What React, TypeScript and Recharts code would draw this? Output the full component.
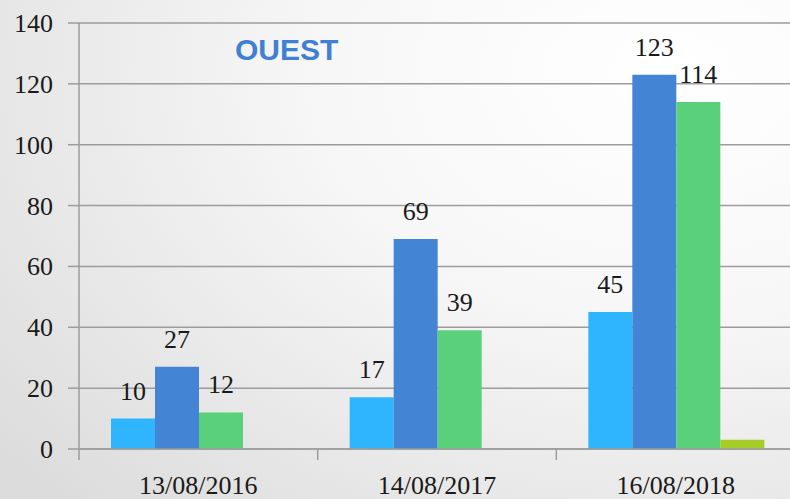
import React from "react";
import { BarChart, Bar, XAxis, YAxis, CartesianGrid, LabelList } from "recharts";

const categories = ["13/08/2016", "14/08/2017", "16/08/2018"];
const serieA = [10, 17, 45];
const serieB = [27, 69, 123];
const serieC = [12, 39, 114];
const serieD = [0, 0, 3];
const yTicks = [0, 20, 40, 60, 80, 100, 120, 140];

const data = categories.map((date, i) => ({
  date,
  a: serieA[i],
  b: serieB[i],
  c: serieC[i],
  d: serieD[i],
}));

const W = 790;
const H = 499;
const CHART_W = 795; // plot area runs slightly past the right edge
const LEFT = 79;
const GRID = "#9c9c9c";
const INK = "#1a1a1a";
const FONT = "'Liberation Serif', 'Times New Roman', serif";
const band = (CHART_W - LEFT) / categories.length;

// x tick: category label plus a small tick mark at the left edge of the band
function DateTick(props: any) {
  const { x, y, payload } = props;
  return (
    <g>
      <line x1={x - band / 2} x2={x - band / 2} y1={y} y2={y + 11} stroke={GRID} strokeWidth={1.5} />
      <text x={x} y={y + 45} textAnchor="middle" fill={INK} fontSize={26} fontFamily={FONT}>
        {payload.value}
      </text>
    </g>
  );
}

function ValueTick(props: any) {
  const { x, y, payload } = props;
  return (
    <text x={x} y={y + 9} textAnchor="end" fill={INK} fontSize={26} fontFamily={FONT}>
      {payload.value}
    </text>
  );
}

function BarValue(props: any) {
  const { x, y, width, value } = props;
  return (
    <text x={x + width / 2} y={y - 19} textAnchor="middle" fill={INK} fontSize={26} fontFamily={FONT}>
      {value}
    </text>
  );
}

export default function App() {
  return (
    <div
      style={{
        position: "absolute",
        left: 0,
        top: 0,
        width: W,
        height: H,
        overflow: "hidden",
        background:
          "radial-gradient(ellipse 110% 120% at 85% 15%, #ffffff 0%, #f7f7f7 40%, #dcdcdc 100%)",
      }}
    >
      <div
        style={{
          position: "absolute",
          left: 235,
          top: 32,
          fontFamily: "'Liberation Sans', Arial, sans-serif",
          fontWeight: "bold",
          fontSize: 30,
          color: "#3f80d3",
          lineHeight: "36px",
        }}
      >
        OUEST
      </div>
      <BarChart
        width={CHART_W}
        height={H}
        data={data}
        margin={{ top: 23, right: 0, bottom: 0, left: 0 }}
        barCategoryGap={32}
        barGap={0}
        style={{ position: "absolute", left: 0, top: 0 }}
      >
        <CartesianGrid vertical={false} stroke={GRID} strokeWidth={1.5} />
        <XAxis
          dataKey="date"
          height={50}
          axisLine={{ stroke: GRID, strokeWidth: 1.5 }}
          tickLine={false}
          tickSize={0}
          tickMargin={0}
          tick={<DateTick />}
          interval={0}
        />
        <YAxis
          width={LEFT}
          domain={[0, 140]}
          ticks={yTicks}
          interval={0}
          axisLine={{ stroke: GRID, strokeWidth: 1.5 }}
          tickLine={{ stroke: GRID, strokeWidth: 1.5 }}
          tickSize={11}
          tickMargin={15}
          tick={<ValueTick />}
        />
        <Bar dataKey="a" fill="#2fb5fe" isAnimationActive={false}>
          <LabelList dataKey="a" content={<BarValue />} />
        </Bar>
        <Bar dataKey="b" fill="#4484d4" isAnimationActive={false}>
          <LabelList dataKey="b" content={<BarValue />} />
        </Bar>
        <Bar dataKey="c" fill="#5bd07b" isAnimationActive={false}>
          <LabelList dataKey="c" content={<BarValue />} />
        </Bar>
        <Bar dataKey="d" fill="#a4cd2a" isAnimationActive={false} />
      </BarChart>
    </div>
  );
}
